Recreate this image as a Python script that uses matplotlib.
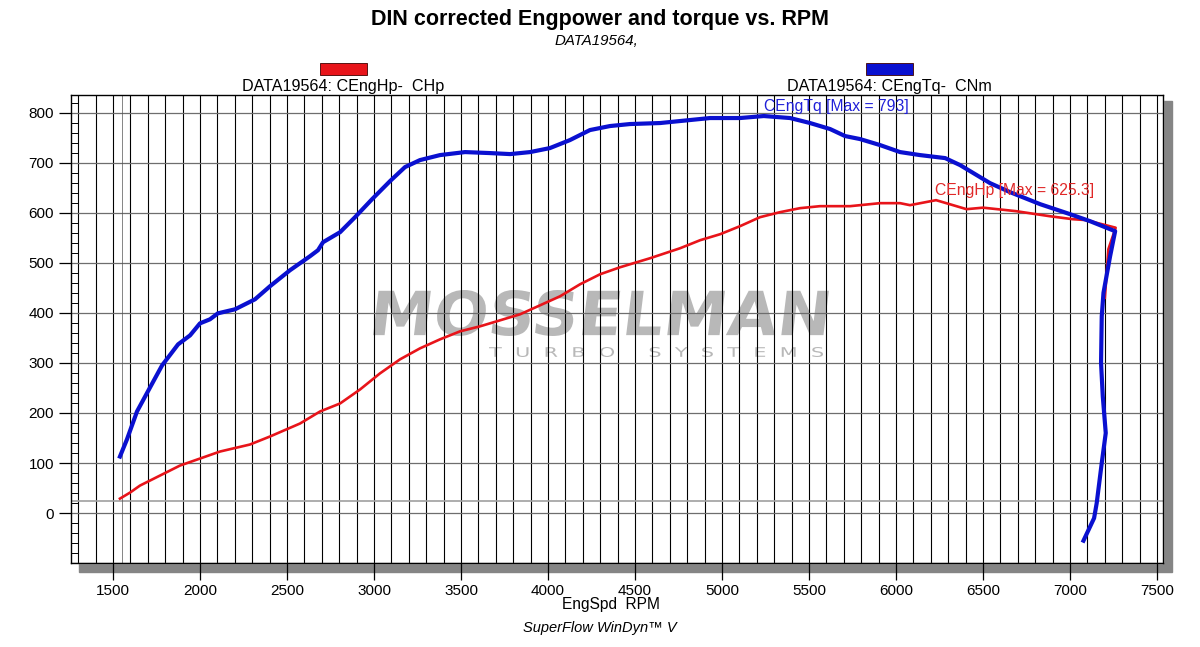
import numpy as np
import matplotlib
matplotlib.use('Agg')
import matplotlib.pyplot as plt
from matplotlib.patches import Rectangle, PathPatch
from matplotlib.textpath import TextPath
from matplotlib.font_manager import FontProperties
from matplotlib.transforms import Affine2D
from matplotlib.ticker import MultipleLocator

# Data
TQ_RPM = [1540, 1580, 1638, 1713, 1782, 1874, 1943, 2000, 2057, 2103, 2201, 2316,
          2402, 2517, 2632, 2678, 2707, 2805, 2891, 2989, 3092, 3178, 3264, 3379,
          3523, 3667, 3782, 3897, 4011, 4126, 4241, 4356, 4471, 4644, 4816, 4931,
          5103, 5240, 5391, 5506, 5621, 5707, 5793, 5908, 6023, 6138, 6282, 6368,
          6454, 6540, 6655, 6828, 7000, 7115, 7259, 7230, 7192, 7182, 7178, 7188,
          7205, 7182, 7153, 7138, 7077]
TQ_NM = [113, 147, 203, 251, 295, 337, 355, 379, 387, 399, 407, 427,
         453, 485, 513, 525, 541, 561, 591, 627, 663, 691, 705, 715,
         721, 719, 717, 721, 729, 745, 765, 773, 777, 779, 785, 789,
         789, 793, 789, 779, 767, 753, 747, 735, 721, 715, 709, 695,
         677, 659, 641, 617, 597, 583, 563, 513, 440, 393, 300, 233,
         160, 100, 20, -10, -55]

HP_RPM = [1540, 1598, 1655, 1770, 1885, 2000, 2115, 2287, 2402, 2575, 2690, 2805,
          2920, 3034, 3149, 3264, 3379, 3494, 3609, 3724, 3839, 3954, 4069, 4184,
          4299, 4414, 4586, 4759, 4874, 4989, 5103, 5218, 5333, 5448, 5563, 5736,
          5908, 6023, 6080, 6230, 6405, 6500, 6690, 6882, 7015, 7101, 7149, 7262,
          7220, 7200]
HP_CHP = [29, 41, 55, 75, 95, 109, 123, 137, 153, 179, 203, 219,
          247, 279, 307, 329, 347, 363, 373, 385, 397, 415, 433, 457,
          477, 491, 509, 529, 545, 557, 573, 591, 601, 609, 613, 613,
          619, 619, 615, 625, 607, 610, 603, 593, 587, 585, 580, 570,
          527, 430]

TQ_MAX_RPM, TQ_MAX = 5240, 793
HP_MAX_RPM, HP_MAX = 6225, 625.3

X_TICKS = [1500, 2000, 2500, 3000, 3500, 4000, 4500, 5000, 5500, 6000, 6500, 7000, 7500]
Y_TICKS = [0, 100, 200, 300, 400, 500, 600, 700, 800]

W, H = 1200, 647
FONT = 'Liberation Sans'
RED = '#e8141a'
BLUE = '#0a10d0'
WM_GREY = '#b8b8b8'


def fx(px):
    return px / W


def fy(py):
    return 1 - py / H


def logo_text(fig, s, x0, x1, y_top, y_bot, weight='normal', skew=0.0):
    """Stretch a text outline into a pixel box (watermark)."""
    tp = TextPath((0, 0), s, size=1, prop=FontProperties(family='DejaVu Sans', weight=weight))
    ext = tp.get_extents()
    pw, ph = x1 - x0, y_bot - y_top
    shift = np.tan(np.radians(skew)) * ph
    tr = (Affine2D().translate(-ext.x0, -ext.y0)
          .scale((pw - shift) / ext.width, ph / ext.height)
          .skew_deg(skew, 0)
          .scale(1 / W, 1 / H)
          .translate(fx(x0), fy(y_bot)))
    patch = PathPatch(tr.transform_path(tp), transform=fig.transFigure,
                      facecolor=WM_GREY, edgecolor='none', zorder=0)
    fig.patches.append(patch)


plt.rcParams['font.family'] = [FONT, 'DejaVu Sans']

fig = plt.figure(figsize=(W / 100, H / 100), dpi=100)

# axes box in pixels
left, right, top, bottom = 70.7, 1163, 95, 562.7
ax = fig.add_axes([fx(left), fy(bottom), (right - left) / W, (bottom - top) / H])
ax.set_zorder(1)
ax.patch.set_alpha(0)

# drop shadow and white plot background, then the watermark over it
fig.patches.append(Rectangle((fx(79), fy(572)), (1172 - 79) / W, (572 - 101) / H,
                             transform=fig.transFigure, color='#858585', zorder=-1))
fig.patches.append(Rectangle((fx(left), fy(bottom)), (right - left) / W, (bottom - top) / H,
                             transform=fig.transFigure, color='white', zorder=-0.5))
logo_text(fig, 'MOSSELMAN', 373, 829, 290, 336, weight='bold', skew=7)
logo_text(fig, 'T  U  R  B  O     S  Y  S  T  E  M  S', 489, 823, 347, 357)

ax.set_xlim(1257, 7534)
ax.set_ylim(-99, 835)

# grid: black verticals every 100 rpm, grey horizontals every 100
for r in range(1300, 7501, 100):
    ax.axvline(r, color='black', lw=0.8, zorder=1)
for v in range(-100, 801, 100):
    ax.axhline(v, color='#6e6e6e', lw=0.9, zorder=1)
ax.axhline(25, color='#a0a0a0', lw=1.2, zorder=1)
ax.axvline(1550, color='#555555', lw=0.5, zorder=1)

ax.plot(HP_RPM, HP_CHP, color=RED, lw=1.9, zorder=3)
ax.plot(TQ_RPM, TQ_NM, color=BLUE, lw=3.0, zorder=4)

ax.set_xticks(X_TICKS)
ax.set_yticks(Y_TICKS)
ax.yaxis.set_minor_locator(MultipleLocator(20))
ax.tick_params(axis='x', which='major', direction='out', length=12, width=0.9,
               labelsize=11, pad=3)
ax.tick_params(axis='y', which='major', direction='out', length=9, width=0.9,
               labelsize=11, pad=3)
ax.tick_params(axis='y', which='minor', direction='in', length=5.3, width=0.7)
for s in ax.spines.values():
    s.set_linewidth(1.0)

ax.text(TQ_MAX_RPM, 812, f'CEngTq [Max = {TQ_MAX}]', color='#2020d8', fontsize=11.3,
        ha='left', va='center', zorder=5)
ax.text(HP_MAX_RPM, 645, f'CEngHp [Max = {HP_MAX}]', color='#e02828', fontsize=11.3,
        ha='left', va='center', zorder=5)

# titles
fig.text(fx(600), fy(20), 'DIN corrected Engpower and torque vs. RPM', fontsize=15.5,
         fontweight='bold', ha='center', va='center')
fig.text(fx(596), fy(41), 'DATA19564,', fontsize=10.8, style='italic', ha='center', va='center')

# series labels with colour swatches
for cx, col, lab in [(343, RED, 'DATA19564: CEngHp-  CHp'),
                     (889, BLUE, 'DATA19564: CEngTq-  CNm')]:
    fig.patches.append(Rectangle((fx(cx - 23), fy(75)), 47 / W, 12 / H,
                                 transform=fig.transFigure, facecolor=col,
                                 edgecolor='#400000', lw=0.6))
    fig.text(fx(cx), fy(86), lab, fontsize=11.6, ha='center', va='center')

fig.text(fx(611), fy(604), 'EngSpd  RPM', fontsize=11.2, ha='center', va='center')
fig.text(fx(600), fy(628), 'SuperFlow WinDyn\u2122 V', fontsize=10.5, style='italic',
         ha='center', va='center')

fig.savefig('out.png', dpi=100, facecolor='white')
